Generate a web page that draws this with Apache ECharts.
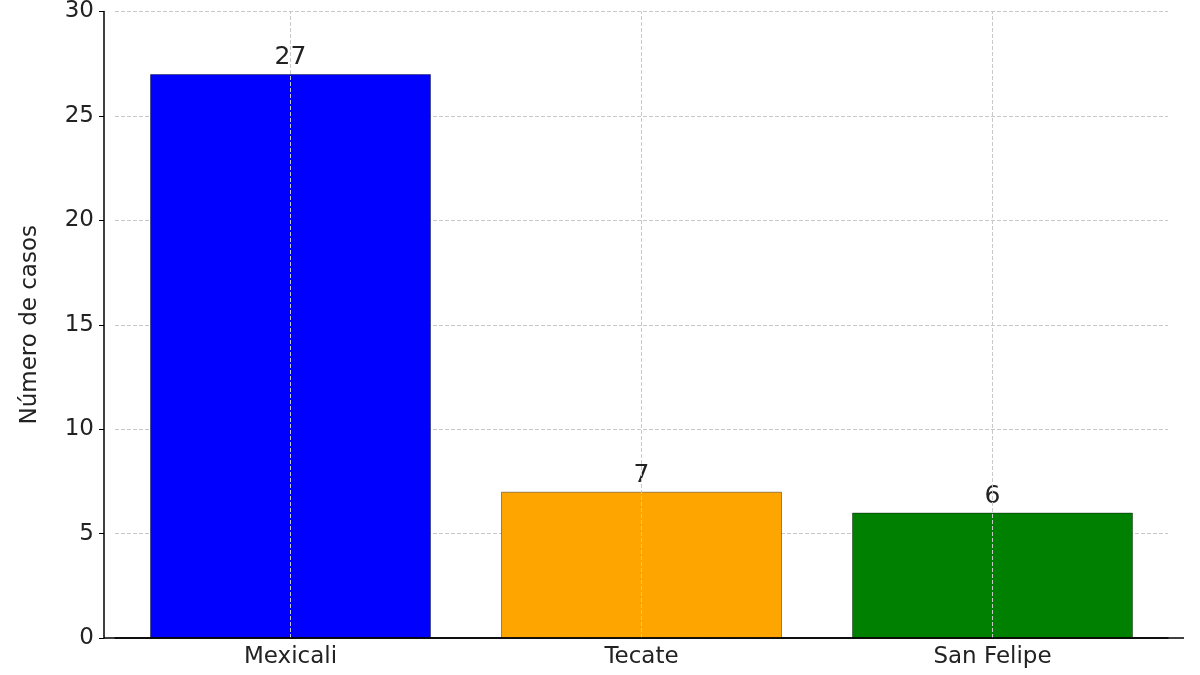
<!DOCTYPE html>
<html><head><meta charset="utf-8">
<script src="https://cdn.jsdelivr.net/npm/echarts@6/dist/echarts.min.js"></script>
<style>html,body{margin:0;padding:0;background:#fff}#c{width:1200px;height:675px}</style>
</head><body><div id="c"></div>
<script>
const categories = ['Mexicali', 'Tecate', 'San Felipe'];
const values = [27, 7, 6];
const colors = ['#0000ff', '#ffa500', '#008000'];
const yTicks = [0, 5, 10, 15, 20, 25, 30];

const chart = echarts.init(document.getElementById('c'));
const font = 'DejaVu Sans';
chart.setOption({
  animation: false,
  grid: { left: 115, right: 32, top: 9, bottom: 37 },
  graphic: [{ type: 'line', shape: { x1: 104, y1: 638, x2: 1184, y2: 638 }, style: { stroke: '#000', lineWidth: 1.5 }, z: 10 }],
  xAxis: {
    type: 'category', data: categories,
    axisLine: { lineStyle: { color: '#000', width: 1.5 } },
    axisTick: { alignWithLabel: true, length: 5, lineStyle: { color: '#000' } },
    axisLabel: { color: '#222', fontSize: 23, fontFamily: font, margin: 8 },
    splitLine: { show: false }
  },
  yAxis: {
    type: 'value', min: 0, max: 30, interval: 5, offset: 11,
    name: 'Número de casos', nameLocation: 'middle', nameGap: 62,
    nameTextStyle: { fontSize: 23, fontFamily: font, color: '#222' },
    axisLine: { show: true, lineStyle: { color: '#000', width: 1.5 } },
    axisTick: { show: true, length: 5, lineStyle: { color: '#000' } },
    axisLabel: { color: '#222', fontSize: 23, fontFamily: font, margin: 10 },
    splitLine: { lineStyle: { color: '#c8c8c8', type: 'dashed' } }
  },
  series: [{
    type: 'bar', barWidth: '80%',
    data: values.map((v, i) => ({ value: v, itemStyle: { color: colors[i], borderColor: 'rgba(0,0,0,0.5)', borderWidth: 0.8 } })),
    label: { show: true, position: 'top', fontSize: 25, fontFamily: font, color: '#222', distance: 4 },
    markLine: {
      silent: true, symbol: 'none', label: { show: false },
      lineStyle: { color: '#c8c8c8', type: 'dashed', width: 1 },
      data: categories.map(c => ({ xAxis: c }))
    },
    z: 2
  }]
});
</script></body></html>
